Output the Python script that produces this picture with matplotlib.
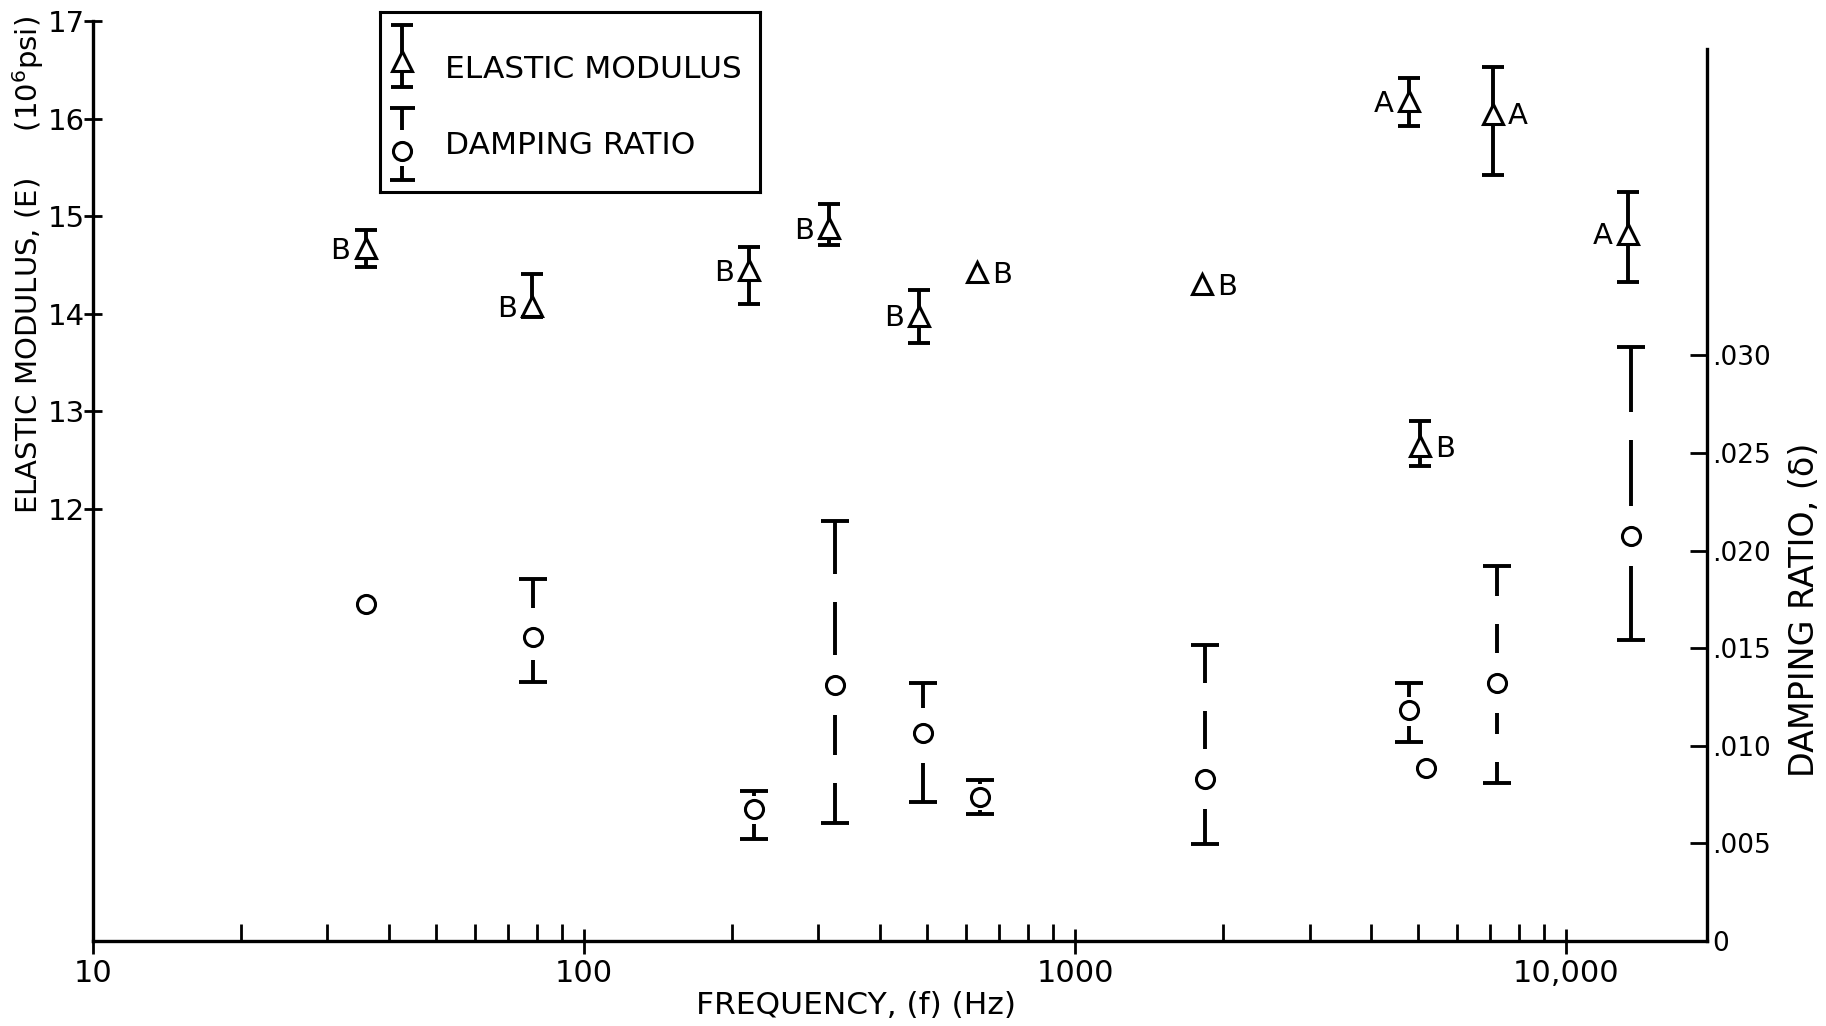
import numpy as np
import matplotlib
matplotlib.use("Agg")
import matplotlib.pyplot as plt
from matplotlib.ticker import FixedLocator, FixedFormatter, LogLocator, NullFormatter

nan = np.nan

# elastic modulus (10^6 psi) against frequency, with the scatter band
e_freq = [35.9, 78.3, 217, 315, 480, 631, 1809, 4775, 7080, 13340, 5045]
e_mod = [14.67, 14.08, 14.45, 14.88, 13.98, 14.43, 14.30, 16.18, 16.05, 14.82, 12.64]
e_low = [14.48, 13.97, 14.10, 14.70, 13.70, nan, nan, 15.92, 15.42, 14.32, 12.44]
e_high = [14.86, 14.41, 14.68, 15.12, 14.24, nan, nan, 16.42, 16.53, 15.25, 12.90]
e_tag = ["B", "B", "B", "B", "B", "B", "B", "A", "A", "A", "B"]
e_tag_side = [-1, -1, -1, -1, -1, 1, 1, -1, 1, -1, 1]

# damping ratio against frequency
d_freq = [35.9, 78.8, 222, 324, 489, 639, 1834, 4785, 5180, 7210, 13570]
d_ratio = [0.01726, 0.01556, 0.00677, 0.01311, 0.01066, 0.00736, 0.00830, 0.01182, 0.00884, 0.01321, 0.02075]
d_low = [nan, 0.01328, 0.00525, 0.00603, 0.00714, 0.00652, 0.00496, 0.01018, nan, 0.00807, 0.01543]
d_high = [nan, 0.01855, 0.00767, 0.02153, 0.01323, 0.00825, 0.01518, 0.01321, nan, 0.01920, 0.03045]
# number of pen strokes above / below each circle
d_dash_up = [0, 1, 1, 2, 1, 1, 2, 1, 0, 2, 2]
d_dash_down = [0, 1, 1, 2, 1, 1, 1, 1, 0, 2, 1]

x_ticks = [10, 100, 1000, 10000]
x_tick_labels = ["10", "100", "1000", "10,000"]
e_ticks = [12, 13, 14, 15, 16, 17]
d_ticks = [0, 0.005, 0.010, 0.015, 0.020, 0.025, 0.030]
d_tick_labels = ["0", ".005", ".010", ".015", ".020", ".025", ".030"]

plt.rcParams["font.family"] = ["DejaVu Sans"]
narrow = ["Liberation Sans Narrow", "DejaVu Sans"]
LW = 2.8


def damping_bar(ax, x, mid, lo, hi, n_up, n_down, cap=20):
    # broken error bar: strokes start at each cap and stop short of the circle
    to_disp = ax.transData
    to_data = ax.transData.inverted()
    y_mid = to_disp.transform((x, mid))[1]
    for val, n in ((hi, n_up), (lo, n_down)):
        xd, y_cap = to_disp.transform((x, val))
        length = abs(y_mid - y_cap)
        step = np.sign(y_mid - y_cap)
        room = length - min(30, max(13, 0.5 * length))
        if n > 0 and room > 0:
            gap = 28
            dash = (room - (n - 1) * gap) / n
            if dash < 6:
                n, dash = 1, room
            pos = 0
            for _ in range(n):
                pts = [(xd, y_cap + step * pos), (xd, y_cap + step * (pos + dash))]
                (x0, y0), (x1, y1) = to_data.transform(pts)
                ax.plot([x0, x1], [y0, y1], color="k", lw=LW, solid_capstyle="butt")
                pos += dash + gap
        ax.plot([x], [val], marker="_", ms=cap, mew=LW, color="k")


fig = plt.figure(figsize=(18.26, 10.26), dpi=100)
W, H = 1826, 1026
ax = fig.add_axes([93 / W, 1 - 941 / H, (1707 - 93) / W, (941 - 21) / H])

ax.set_xscale("log")
ax.set_xlim(10, 19340)
ax.set_ylim(7.57, 17)
ax.xaxis.set_major_locator(FixedLocator(x_ticks))
ax.xaxis.set_major_formatter(FixedFormatter(x_tick_labels))
ax.xaxis.set_minor_locator(LogLocator(base=10, subs=np.arange(2, 10)))
ax.xaxis.set_minor_formatter(NullFormatter())
ax.yaxis.set_major_locator(FixedLocator(e_ticks))
ax.tick_params(axis="x", which="major", direction="inout", length=18, width=2, pad=4, labelsize=22)
ax.tick_params(axis="x", which="minor", direction="in", length=12, width=2)
ax.tick_params(axis="y", direction="inout", length=13, width=2, pad=-1, labelsize=21)
for lab in ax.get_xticklabels() + ax.get_yticklabels():
    lab.set_fontfamily(narrow)
ax.spines["top"].set_visible(False)
ax.spines["right"].set_visible(False)
ax.spines["left"].set_linewidth(2.4)
ax.spines["bottom"].set_linewidth(2.4)

# elastic modulus: open triangles with capped bars
f = np.array(e_freq)
m = np.array(e_mod)
lo = np.array(e_low)
hi = np.array(e_high)
ok = np.isfinite(lo)
ax.errorbar(f[ok], m[ok], yerr=[m[ok] - lo[ok], hi[ok] - m[ok]], fmt="none",
            ecolor="k", elinewidth=LW, capsize=8, capthick=LW, zorder=2)
ax.plot(f, m, ls="none", marker="^", ms=14, mfc="white", mec="k", mew=2.2, zorder=3)
for xf, ym, tag, side in zip(e_freq, e_mod, e_tag, e_tag_side):
    ax.annotate(tag, (xf, ym), xytext=(18 * side, -2), textcoords="offset points",
                ha="center", va="center", fontsize=21)

# damping ratio on the right-hand scale
ax2 = ax.twinx()
ax2.set_ylim(0, 0.04713)
ax2.yaxis.set_major_locator(FixedLocator(d_ticks))
ax2.yaxis.set_major_formatter(FixedFormatter(d_tick_labels))
ax2.tick_params(axis="y", direction="in", length=12, width=2, pad=4, labelsize=19)
for side in ("top", "left", "bottom"):
    ax2.spines[side].set_visible(False)
ax2.spines["right"].set_linewidth(2.4)
ax2.spines["right"].set_bounds(0, 0.0457)

for i in range(len(d_freq)):
    if np.isfinite(d_low[i]):
        damping_bar(ax2, d_freq[i], d_ratio[i], d_low[i], d_high[i], d_dash_up[i], d_dash_down[i])
ax2.plot(d_freq, d_ratio, ls="none", marker="o", ms=13, mfc="white", mec="k", mew=2.2, zorder=4)

# axis titles
fig.text(28 / W, 1 - 265 / H, "ELASTIC MODULUS, (E)     (10$^6$psi)", rotation=90,
         ha="center", va="center", fontsize=21)
fig.text(1804 / W, 1 - 610 / H, "DAMPING RATIO, (\u03b4)", rotation=90,
         ha="center", va="center", fontsize=24)
fig.text(856 / W, 1 - 1006 / H, "FREQUENCY, (f) (Hz)", ha="center", va="center", fontsize=22.5)

# key box, laid out in pixel units
leg = fig.add_axes([380 / W, 1 - 191.7 / H, 380 / W, 180 / H])
leg.set_xlim(0, 380)
leg.set_ylim(180, 0)
leg.set_xticks([])
leg.set_yticks([])
for s in leg.spines.values():
    s.set_linewidth(2.2)
leg.errorbar([21.7], [49.3], yerr=[[36], [26.3]], fmt="none", ecolor="k",
             elinewidth=LW, capsize=8, capthick=LW)
leg.plot([21.7], [49.3], marker="^", ms=14, mfc="white", mec="k", mew=2.2)
leg.text(65, 58.3, "ELASTIC MODULUS", va="center", fontsize=22.5)
damping_bar(leg, 21.7, 139.3, 168.3, 96.3, 1, 1, cap=18)
leg.plot([21.7], [139.3], marker="o", ms=13, mfc="white", mec="k", mew=2.2)
leg.text(65, 133.3, "DAMPING RATIO", va="center", fontsize=22.5)

fig.savefig("out.png", dpi=100)
